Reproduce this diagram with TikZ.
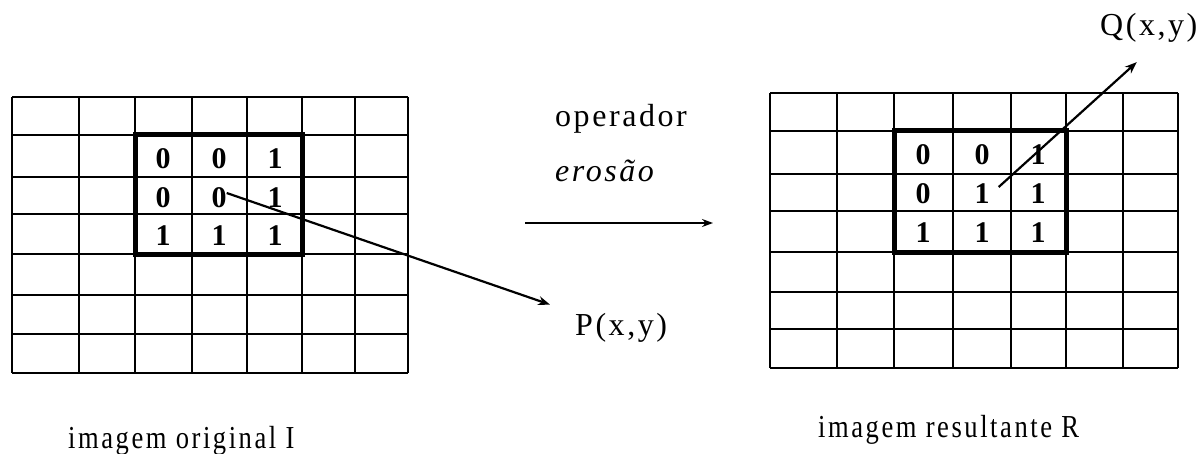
\documentclass[tikz,border=0pt]{standalone}
\usepackage{fontspec}
\setmainfont{Liberation Serif}[LetterSpace=8]
\newfontfamily\pixelfont{Liberation Serif}
\newfontfamily\namefont{Liberation Serif}[FakeStretch=0.83,LetterSpace=8]
\usetikzlibrary{arrows.meta}
\newcommand\captionfont{\fontsize{32}{36}\selectfont}

\begin{document}
\begin{tikzpicture}[
      x=1pt,y=-1pt,
      gridline/.style={line width=2.6pt},
      window/.style={line width=5pt},
      pointer/.style={line width=2.2pt, -{Stealth[length=12pt,width=9pt]}},
      operator/.style={line width=1.8pt, -{Stealth[length=11pt,width=8pt]}},
      pixel/.style={inner sep=0pt, font=\pixelfont\fontsize{30}{30}\selectfont\bfseries},
      caption/.style={inner sep=0pt, anchor=base west, font=\captionfont},
      imgname/.style={inner sep=0pt, anchor=base west, font=\namefont\captionfont}
      ]
      \useasboundingbox (0,0) rectangle (1198,454);

      %original image grid
      \foreach \x in {12,79,135,192,247,302,355,408}
        \draw[gridline] (\x,97) -- (\x,373);
      \foreach \y in {97,135,177,214,254,295,334,373}
        \draw[gridline] (12,\y) -- (408,\y);
      \draw[window] (135,135) rectangle (302,254);

      %result image grid
      \foreach \x in {770,837,894,953,1011,1066,1123,1178}
        \draw[gridline] (\x,93) -- (\x,368);
      \foreach \y in {93,131,174,211,252,292,329,368}
        \draw[gridline] (770,\y) -- (1178,\y);
      \draw[window] (894,131) rectangle (1066,252);

      %original window values
      \node[pixel] (l11) at (163,159) {0};
      \node[pixel] (l12) at (219,159) {0};
      \node[pixel] (l13) at (275,159) {1};
      \node[pixel] (l21) at (163,198) {0};
      \node[pixel] (l22) at (219,198) {0};
      \node[pixel] (l23) at (275,198) {1};
      \node[pixel] (l31) at (163,236) {1};
      \node[pixel] (l32) at (219,236) {1};
      \node[pixel] (l33) at (275,236) {1};

      %result window values
      \node[pixel] (r11) at (923,155) {0};
      \node[pixel] (r12) at (982,155) {0};
      \node[pixel] (r13) at (1038,155) {1};
      \node[pixel] (r21) at (923,194) {0};
      \node[pixel] (r22) at (982,194) {1};
      \node[pixel] (r23) at (1038,194) {1};
      \node[pixel] (r31) at (923,233) {1};
      \node[pixel] (r32) at (982,233) {1};
      \node[pixel] (r33) at (1038,233) {1};

      %labels
      \node[caption] (pxy) at (575,335) {P(x,y)};
      \node[caption] (qxy) at (1100,36) {Q(x,y)};
      \node[caption] (opname) at (555,127) {operador};
      \node[caption, font=\captionfont\itshape] (opkind) at (555,182) {erosão};
      \node[imgname] (origname) at (68,448) {imagem original I};
      \node[imgname] (resname) at (818,437) {imagem resultante R};

      %arrows
      \coordinate (opstart) at (525,223);
      \coordinate (opend) at (713,223);
      \draw[operator] (opstart) -- (opend);
      \draw[pointer] ([yshift=5pt]l22.east) -- ([xshift=-25pt,yshift=8pt]pxy.north west);
      \draw[pointer] ([xshift=9pt,yshift=7pt]r22.east) -- ([xshift=-12pt,yshift=-19pt]qxy.south);
\end{tikzpicture}
\end{document}
